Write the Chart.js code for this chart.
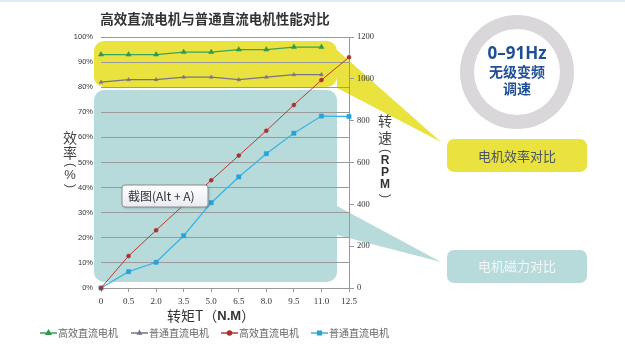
<!DOCTYPE html>
<html>
<head>
<meta charset="utf-8">
<script src="https://cdn.jsdelivr.net/npm/chart.js@4.4.1/dist/chart.umd.min.js"></script>
<style>
  html, body { margin: 0; padding: 0; background: #fff; }
  #wrap { width: 625px; height: 345px; }
</style>
</head>
<body>
<div id="wrap"><canvas id="perf" width="625" height="345"></canvas></div>
<script>
// torque steps on the x axis (N.M)
const torqueLabels = ['0', '0.5', '2.0', '3.5', '5.0', '6.5', '8.0', '9.5', '11.0', '12.5']

// efficiency, %
const effHigh = [93, 93, 93, 94, 94, 95, 95, 96, 96, null]
const effStd = [82, 83, 83, 84, 84, 83, 84, 85, 85, null]

// speed, RPM
const rpmHigh = [0, 153, 276, 397, 515, 633, 752, 875, 994, 1103]
const rpmStd = [0, 78, 123, 250, 408, 531, 642, 740, 822, 820]

const seriesNames = ['高效直流电机', '普通直流电机', '高效直流电机', '普通直流电机']

const CJK = '"Noto Sans CJK SC", "Noto Sans", sans-serif'

function centerText(ctx, text, x, y, font, color) {
  ctx.font = font
  ctx.fillStyle = color
  ctx.textAlign = 'center'
  ctx.textBaseline = 'middle'
  ctx.fillText(text, x, y)
}

// bracket turned on its side for the stacked axis titles
function sideParen(ctx, ch, x, y, color) {
  ctx.save()
  ctx.translate(x, y)
  ctx.rotate(Math.PI / 2)
  centerText(ctx, ch, 0, 0, '12px "Liberation Sans", sans-serif', color)
  ctx.restore()
}

const decorations = {
  id: 'decorations',
  beforeDraw(chart) {
    const ctx = chart.ctx
    ctx.save()
    ctx.fillStyle = '#fff'
    ctx.fillRect(0, 0, chart.width, chart.height)

    ctx.strokeStyle = '#d5e5ef'
    ctx.lineWidth = 1.5
    ctx.beginPath()
    ctx.moveTo(0, 1)
    ctx.lineTo(chart.width, 1)
    ctx.stroke()

    // highlight panels behind the plot
    ctx.fillStyle = '#e9e23f'
    ctx.beginPath()
    ctx.moveTo(337, 50)
    ctx.lineTo(441, 142)
    ctx.lineTo(337, 88)
    ctx.fill()
    ctx.beginPath()
    ctx.roundRect(94, 41, 243, 46, 10)
    ctx.fill()

    ctx.fillStyle = '#b7dbdb'
    ctx.beginPath()
    ctx.moveTo(337, 206)
    ctx.lineTo(441, 262)
    ctx.lineTo(337, 235)
    ctx.fill()
    ctx.beginPath()
    ctx.roundRect(94, 90, 243, 192, 10)
    ctx.fill()

    // callout boxes
    ctx.fillStyle = '#e9e23f'
    ctx.beginPath()
    ctx.roundRect(447, 139, 140, 33, 7)
    ctx.fill()
    centerText(ctx, '电机效率对比', 517, 156, '13px ' + CJK, '#4b5563')

    ctx.fillStyle = '#b7dbdb'
    ctx.beginPath()
    ctx.roundRect(447, 250, 140, 33, 7)
    ctx.fill()
    centerText(ctx, '电机磁力对比', 517, 266, '13px ' + CJK, '#f2f7f7')

    // ring badge
    ctx.fillStyle = '#dad7da'
    ctx.beginPath()
    ctx.arc(517, 72, 57, 0, Math.PI * 2)
    ctx.arc(517, 72, 43, 0, Math.PI * 2, true)
    ctx.fill()
    centerText(ctx, '0–91Hz', 517, 54, 'bold 17px "Open Sans", sans-serif', '#1f4f96')
    centerText(ctx, '无级变频', 517, 72, 'bold 14px ' + CJK, '#1f4f96')
    centerText(ctx, '调速', 517, 89, 'bold 14px ' + CJK, '#1f4f96')

    // titles
    centerText(ctx, '高效直流电机与普通直流电机性能对比', 215, 19, 'bold 13.5px ' + CJK, '#333')

    centerText(ctx, '效', 70, 138, '14px ' + CJK, '#444')
    centerText(ctx, '率', 70, 153, '14px ' + CJK, '#444')
    sideParen(ctx, '(', 70, 165, '#444')
    centerText(ctx, '%', 70, 175, '13px "Liberation Sans", sans-serif', '#444')
    sideParen(ctx, ')', 70, 186, '#444')

    centerText(ctx, '转', 385, 121, '14px ' + CJK, '#444')
    centerText(ctx, '速', 385, 138, '14px ' + CJK, '#444')
    sideParen(ctx, '(', 385, 151, '#444')
    const rpm = ['R', 'P', 'M']
    const rpmY = [161, 173, 185]
    rpm.forEach((ch, i) => centerText(ctx, ch, 385, rpmY[i], 'bold 12px "Liberation Sans", sans-serif', '#333'))
    sideParen(ctx, ')', 385, 196, '#444')

    // x axis title, "N.M" in bold
    ctx.font = '14px ' + CJK
    const part1 = '转矩T（'
    const w1 = ctx.measureText(part1).width
    ctx.font = 'bold 13px "Liberation Sans", sans-serif'
    const w2 = ctx.measureText('N.M').width
    ctx.font = '14px ' + CJK
    const w3 = ctx.measureText('）').width
    let x = 211 - (w1 + w2 + w3) / 2
    ctx.textAlign = 'left'
    ctx.textBaseline = 'middle'
    ctx.fillStyle = '#333'
    ctx.fillText(part1, x, 316)
    x += w1
    ctx.font = 'bold 13px "Liberation Sans", sans-serif'
    ctx.fillText('N.M', x, 316)
    x += w2
    ctx.font = '14px ' + CJK
    ctx.fillText('）', x, 316)
    ctx.restore()
  },
  afterDraw(chart) {
    const ctx = chart.ctx
    ctx.save()

    // legend: line with a small marker, then label
    const starts = [40, 131, 221, 311]
    const markSize = [2.6, 2, 2, 2.6]
    chart.data.datasets.forEach((ds, i) => {
      const x0 = starts[i]
      const y = 333
      ctx.strokeStyle = ds.borderColor
      ctx.lineWidth = 1.5
      ctx.beginPath()
      ctx.moveTo(x0, y)
      ctx.lineTo(x0 + 17, y)
      ctx.stroke()
      ctx.fillStyle = ds.pointBackgroundColor
      ctx.strokeStyle = ds.pointBackgroundColor
      Chart.helpers.drawPoint(ctx, { pointStyle: ds.pointStyle, radius: markSize[i], borderWidth: 1 }, x0 + 8.5, y)
      ctx.fillStyle = '#666'
      ctx.font = '10px ' + CJK
      ctx.textAlign = 'left'
      ctx.textBaseline = 'middle'
      ctx.fillText(ds.label, x0 + 18, y)
    })

    // screenshot hint box
    ctx.shadowColor = 'rgba(0,0,0,0.25)'
    ctx.shadowBlur = 3
    ctx.shadowOffsetX = 1
    ctx.shadowOffsetY = 1
    const g = ctx.createLinearGradient(0, 185, 0, 207)
    g.addColorStop(0, '#ffffff')
    g.addColorStop(1, '#e9ebf2')
    ctx.fillStyle = g
    ctx.beginPath()
    ctx.roundRect(122, 185, 86, 22, 3)
    ctx.fill()
    ctx.shadowColor = 'transparent'
    ctx.strokeStyle = '#8d8d8d'
    ctx.lineWidth = 1
    ctx.stroke()
    ctx.fillStyle = '#333'
    ctx.font = '12px ' + CJK
    ctx.textAlign = 'left'
    ctx.textBaseline = 'middle'
    ctx.fillText('截图(Alt + A)', 128, 196)
    ctx.restore()
  }
}

const chart = new Chart(document.getElementById('perf'), {
  type: 'line',
  data: {
    labels: torqueLabels,
    datasets: [{
      label: seriesNames[0],
      data: effHigh,
      yAxisID: 'y',
      borderColor: '#3ba35a',
      pointBackgroundColor: '#2f9a4e',
      pointBorderColor: '#2f9a4e',
      borderWidth: 1.2,
      pointStyle: 'triangle',
      pointRadius: 3,
      pointBorderWidth: 0.5,
      clip: 8
    }, {
      label: seriesNames[1],
      data: effStd,
      yAxisID: 'y',
      borderColor: '#7a7288',
      pointBackgroundColor: '#7a7288',
      pointBorderColor: '#7a7288',
      borderWidth: 1.2,
      pointStyle: 'triangle',
      pointRadius: 2.2,
      pointBorderWidth: 0.5,
      clip: 8
    }, {
      label: seriesNames[2],
      data: rpmHigh,
      yAxisID: 'y1',
      borderColor: '#b83a36',
      pointBackgroundColor: '#a8302e',
      pointBorderColor: '#a8302e',
      borderWidth: 1,
      pointStyle: 'circle',
      pointRadius: 2,
      pointBorderWidth: 0.5,
      clip: 8
    }, {
      label: seriesNames[3],
      data: rpmStd,
      yAxisID: 'y1',
      borderColor: '#3db3e3',
      pointBackgroundColor: '#27a3dc',
      pointBorderColor: '#27a3dc',
      borderWidth: 1.3,
      pointStyle: 'rect',
      pointRadius: 3,
      pointBorderWidth: 0.5,
      clip: 8
    }]
  },
  options: {
    responsive: false,
    animation: false,
    layout: { padding: { left: 0, right: 0, top: 37, bottom: 0 } },
    elements: { line: { tension: 0 } },
    plugins: {
      legend: { display: false },
      tooltip: { enabled: false },
      title: { display: false }
    },
    scales: {
      x: {
        offset: false,
        afterFit(scale) { scale.height = 57 },
        grid: { drawOnChartArea: false, drawTicks: true, tickLength: 4, color: '#999' },
        border: { color: '#999' },
        ticks: { padding: 4, color: '#333', font: { family: '"Liberation Serif", serif', size: 9 }, maxRotation: 0, autoSkip: false }
      },
      y: {
        position: 'left',
        min: 0,
        max: 100,
        afterFit(scale) { scale.width = 101 },
        grid: { color: '#9a9a9a', drawTicks: false },
        border: { display: false },
        ticks: {
          stepSize: 10,
          padding: 8,
          color: '#333',
          font: { family: '"Liberation Sans", sans-serif', size: 7.5 },
          callback: (v) => v + '%'
        }
      },
      y1: {
        position: 'right',
        min: 0,
        max: 1200,
        afterFit(scale) { scale.width = 276 },
        grid: { drawOnChartArea: false, drawTicks: true, tickLength: 5, color: '#999' },
        border: { color: '#999' },
        ticks: {
          stepSize: 200,
          padding: 3,
          color: '#333',
          font: { family: '"Liberation Serif", serif', size: 8.5 },
          callback: (v) => String(v)
        }
      }
    }
  },
  plugins: [decorations]
})
</script>
</body>
</html>
